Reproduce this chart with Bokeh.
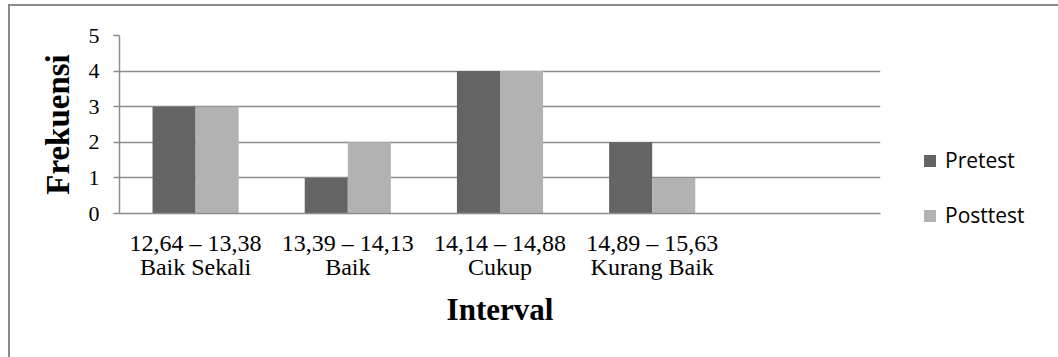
from bokeh.plotting import figure
from bokeh.models import ColumnDataSource, FactorRange, Legend, LegendItem, FixedTicker
from bokeh.transform import dodge
from bokeh.embed import file_html
from bokeh.resources import INLINE

categories = ["12,64 – 13,38\nBaik Sekali", "13,39 – 14,13\nBaik",
              "14,14 – 14,88\nCukup", "14,89 – 15,63\nKurang Baik", " "]
pretest = [3, 1, 4, 2, 0]
posttest = [3, 2, 4, 1, 0]
y_ticks = [0, 1, 2, 3, 4, 5]

src = ColumnDataSource(dict(cat=categories, pre=pretest, post=posttest))

p = figure(x_range=FactorRange(factors=categories), y_range=(0, 5),
           frame_width=761, frame_height=178,
           min_border_left=109, min_border_right=178,
           min_border_top=29, min_border_bottom=144,
           output_backend="svg", toolbar_location=None)
p.styles = {"border-left": "2px solid #898989", "border-top": "2px solid #898989",
            "margin-left": "8px", "margin-top": "4px"}
p.outline_line_color = None
p.background_fill_color = "white"
p.border_fill_color = "white"

bw = 0.283
r1 = p.vbar(x=dodge("cat", -bw / 2, range=p.x_range), top="pre", width=bw,
            source=src, fill_color="#646464", line_color=None)
r2 = p.vbar(x=dodge("cat", bw / 2, range=p.x_range), top="post", width=bw,
            source=src, fill_color="#b2b2b2", line_color=None)

serif = "Liberation Serif"
p.xgrid.grid_line_color = None
p.ygrid.grid_line_color = "#8c8c8c"
p.ygrid.grid_line_width = 1.5
p.yaxis.ticker = FixedTicker(ticks=y_ticks)

for ax in (p.xaxis[0], p.yaxis[0]):
    ax.axis_line_color = "#8c8c8c"
    ax.axis_line_width = 1.5
    ax.major_label_text_font = serif
    ax.major_label_text_color = "black"
    ax.axis_label_text_font = serif
    ax.axis_label_text_font_style = "bold"
    ax.axis_label_text_color = "black"
    ax.minor_tick_line_color = None

p.yaxis.major_label_text_font_size = "22px"
p.yaxis.major_tick_line_color = "#8c8c8c"
p.yaxis.major_tick_line_width = 1.5
p.yaxis.major_tick_out = 6
p.yaxis.major_tick_in = 0
p.yaxis.major_label_standoff = 14
p.yaxis.axis_label = "Frekuensi"
p.yaxis.axis_label_text_font_size = "33px"
p.yaxis.axis_label_standoff = 10

p.xaxis.major_label_text_font_size = "24px"
p.xaxis.major_label_text_line_height = 0.95
p.xaxis.major_tick_line_color = None
p.xaxis.major_label_standoff = 10
p.xaxis.axis_label = "Interval"
p.xaxis.axis_label_text_font_size = "31px"
p.xaxis.axis_label_standoff = 9

legend = Legend(items=[LegendItem(label="Pretest", renderers=[r1]),
                       LegendItem(label="Posttest", renderers=[r2])],
                location=(42, -16), border_line_color=None,
                background_fill_alpha=0, padding=0, margin=0,
                glyph_width=15, glyph_height=15, label_standoff=8,
                label_height=28, spacing=27,
                label_text_font="Open Sans", label_text_font_size="21px",
                label_text_color="black")
p.add_layout(legend, "right")

open("out.html", "w").write(file_html(p, INLINE))
